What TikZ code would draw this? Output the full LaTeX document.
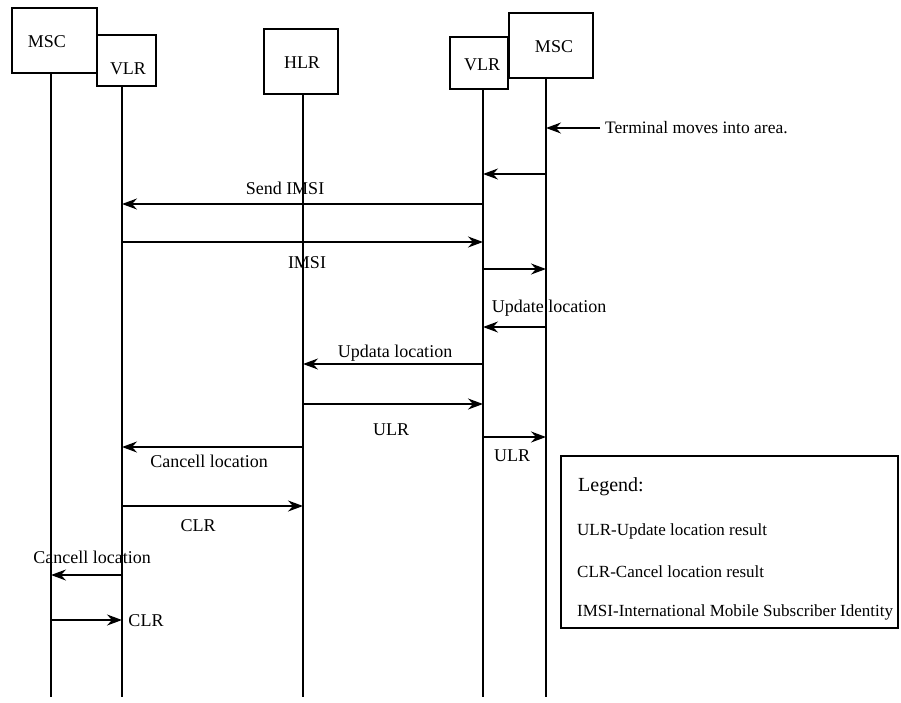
\documentclass[tikz,border=0pt]{standalone}
\usepackage{fontspec}
\setmainfont{Liberation Serif}
\usetikzlibrary{arrows.meta}
\begin{document}
\begin{tikzpicture}[x=1pt,y=-1pt,
  font=\fontsize{18}{21}\selectfont,
  box/.style={draw, line width=1.8pt, inner sep=0pt},
  msg/.style={line width=1.7pt, -{Stealth[length=15pt,width=11pt,inset=5pt]}},
  life/.style={line width=1.8pt},
  lab/.style={inner sep=1pt},
  legtxt/.style={anchor=west, inner sep=0pt, font=\fontsize{17}{20}\selectfont}]
\useasboundingbox (0,0) rectangle (901,702);
% entity boxes
\node[box, minimum width=85pt, minimum height=65pt] (mscA) at (54.5,40.5) {};
\node[box, minimum width=59pt, minimum height=51pt] (vlrA) at (126.5,60.5) {};
\node[box, minimum width=74pt, minimum height=65pt] (hlr) at (301,61.5) {};
\node[box, minimum width=58pt, minimum height=52pt] (vlrB) at (479,63) {};
\node[box, minimum width=84pt, minimum height=65pt] (mscB) at (551,45.5) {};
\node (tmscA) at (47,42) {MSC};
\node (tvlrA) at (128,69) {VLR};
\node (thlr) at (302,63) {HLR};
\node (tvlrB) at (482,65) {VLR};
\node (tmscB) at (554,47) {MSC};
% lifelines
\coordinate (lA) at (51,73);
\coordinate (lB) at (122,86);
\coordinate (lH) at (303,94);
\coordinate (lC) at (483,89);
\coordinate (lD) at (546,78);
\coordinate (eA) at (51,697);
\coordinate (eB) at (122,697);
\coordinate (eH) at (303,697);
\coordinate (eC) at (483,697);
\coordinate (eD) at (546,697);
\draw[life] (lA) -- (eA);
\draw[life] (lB) -- (eB);
\draw[life] (lH) -- (eH);
\draw[life] (lC) -- (eC);
\draw[life] (lD) -- (eD);
% messages
\coordinate (term) at (600,128);
\draw[msg] (term) -- (lD |- 0,128);
\node[anchor=west, inner sep=0pt, font=\fontsize{17.5}{20}\selectfont] (tterm) at (605,128) {Terminal moves into area.};
\draw[msg] (lD |- 0,174) -- (lC |- 0,174);
\draw[msg] (lC |- 0,204) -- (lB |- 0,204);
\node[lab] (m1) at (285,188) {Send IMSI};
\draw[msg] (lB |- 0,242) -- (lC |- 0,242);
\node[lab] (m2) at (307,263) {IMSI};
\draw[msg] (lC |- 0,269) -- (lD |- 0,269);
\draw[msg] (lD |- 0,327) -- (lC |- 0,327);
\node[lab] (m3) at (549,308) {Update location};
\draw[msg] (lC |- 0,364) -- (lH |- 0,364);
\node[lab] (m4) at (395,353) {Updata location};
\draw[msg] (lH |- 0,404) -- (lC |- 0,404);
\node[lab] (m5) at (391,430) {ULR};
\draw[msg] (lC |- 0,437) -- (lD |- 0,437);
\node[lab] (m6) at (512,456) {ULR};
\draw[msg] (lH |- 0,447) -- (lB |- 0,447);
\node[lab] (m7) at (209,461) {Cancell location};
\draw[msg] (lB |- 0,506) -- (lH |- 0,506);
\node[lab] (m8) at (198,526) {CLR};
\draw[msg] (lB |- 0,575) -- (lA |- 0,575);
\node[lab] (m9) at (92,557) {Cancell location};
\draw[msg] (lA |- 0,620) -- (lB |- 0,620);
\node[lab] (m10) at (146,621) {CLR};
% legend
\node[box, minimum width=337pt, minimum height=172pt] (legend) at (729.5,542) {};
\node[legtxt, font=\fontsize{20}{23}\selectfont] (lg0) at (578,487) {Legend:};
\node[legtxt] (lg1) at (577,531) {ULR-Update location result};
\node[legtxt] (lg2) at (577,572) {CLR-Cancel location result};
\node[legtxt] (lg3) at (577,612) {IMSI-International Mobile Subscriber Identity};
\end{tikzpicture}
\end{document}
